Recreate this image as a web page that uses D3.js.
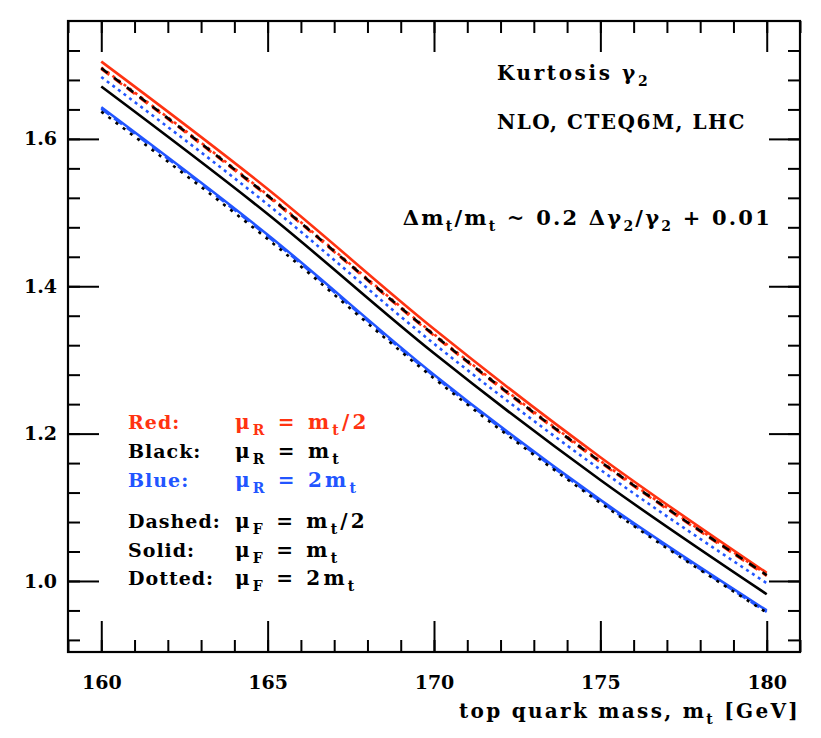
<!DOCTYPE html>
<html>
<head>
<meta charset="utf-8">
<script src="https://cdn.jsdelivr.net/npm/d3@7"></script>
<style>
  body { margin: 0; background: #fff; }
  text { font-family: "DejaVu Serif", serif; font-weight: bold; }
</style>
</head>
<body>
<svg id="chart" width="821" height="738"></svg>
<script>
// ---- data ----
const mass = [160, 165, 170, 175, 180];
const redSolid    = [1.705, 1.532, 1.342, 1.168, 1.011];
const redDashed   = [1.695, 1.522, 1.333, 1.161, 1.007];
const redDotted   = [1.697, 1.524, 1.335, 1.163, 1.009];
const blackSolid  = [1.671, 1.498, 1.309, 1.137, 0.982];
const blackDashed = [1.696, 1.523, 1.334, 1.162, 1.008];
const blackDotted = [1.637, 1.464, 1.275, 1.106, 0.957];
const blueSolid   = [1.643, 1.470, 1.280, 1.110, 0.960];
const blueDashed  = [1.641, 1.468, 1.278, 1.108, 0.958];
const blueDotted  = [1.684, 1.511, 1.322, 1.151, 0.997];

const xMajorTicks = [160, 165, 170, 175, 180];
const xMinorTicks = d3.range(159, 182, 1);
const yMajorTicks = [1.0, 1.2, 1.4, 1.6];
const yMinorTicks = [0.92, 0.96, 1.0, 1.04, 1.08, 1.12, 1.16, 1.2, 1.24, 1.28, 1.32, 1.36, 1.4, 1.44, 1.48, 1.52, 1.56, 1.6, 1.64, 1.68, 1.72];
const yTickLabels = ["1.0", "1.2", "1.4", "1.6"];

const RED = "#ff3311", BLUE = "#2255ff", BLACK = "#000000";

const series = [
  { name: "blueSolid",   values: blueSolid,   color: BLUE,  dash: null },
  { name: "blueDashed",  values: blueDashed,  color: BLUE,  dash: "10,6" },
  { name: "blueDotted",  values: blueDotted,  color: BLUE,  dash: "3,4" },
  { name: "blackSolid",  values: blackSolid,  color: BLACK, dash: null },
  { name: "blackDotted", values: blackDotted, color: BLACK, dash: "3,6" },
  { name: "redSolid",    values: redSolid,    color: RED,   dash: null },
  { name: "redDotted",   values: redDotted,   color: RED,   dash: "3,4" },
  { name: "redDashed",   values: redDashed,   color: RED,   dash: "10,6" },
  { name: "blackDashed", values: blackDashed, color: BLACK, dash: "8,8" }
];

// ---- layout ----
const L = 68, R = 800, T = 21, B = 652;
const svg = d3.select("#chart");
const x = d3.scaleLinear().domain([159, 181]).range([L, R]);
const y = d3.scaleLinear().domain([0.9036, 1.760]).range([B, T]);

svg.append("defs").append("clipPath").attr("id", "clip")
  .append("rect").attr("x", L).attr("y", T).attr("width", R - L).attr("height", B - T);

const line = d3.line()
  .x((d, i) => x(mass[i]))
  .y(d => y(d))
  .curve(d3.curveMonotoneX);

svg.append("g").attr("clip-path", "url(#clip)")
  .selectAll("path").data(series).enter().append("path")
  .attr("d", d => line(d.values))
  .attr("fill", "none")
  .attr("stroke", d => d.color)
  .attr("stroke-width", 2.6)
  .attr("stroke-dasharray", d => d.dash);

function styleAxis(g) {
  g.select(".domain").remove();
  g.selectAll(".tick line").attr("stroke", "#000").attr("stroke-width", 2);
}
function styleLabels(g) {
  g.selectAll("text").attr("font-size", 19).attr("font-family", "DejaVu Serif")
    .attr("font-weight", "bold").attr("fill", "#000");
}
// bottom
svg.append("g").attr("transform", `translate(0,${B})`)
  .call(d3.axisBottom(x).tickValues(xMinorTicks).tickSize(-12).tickFormat(""))
  .call(styleAxis);
svg.append("g").attr("transform", `translate(0,${B})`)
  .call(d3.axisBottom(x).tickValues(xMajorTicks).tickSize(-31).tickPadding(24).tickFormat(d3.format("d")))
  .call(styleAxis).call(styleLabels);
// top
svg.append("g").attr("transform", `translate(0,${T})`)
  .call(d3.axisTop(x).tickValues(xMinorTicks).tickSize(-12).tickFormat(""))
  .call(styleAxis);
svg.append("g").attr("transform", `translate(0,${T})`)
  .call(d3.axisTop(x).tickValues(xMajorTicks).tickSize(-31).tickFormat(""))
  .call(styleAxis);
// left
svg.append("g").attr("transform", `translate(${L},0)`)
  .call(d3.axisLeft(y).tickValues(yMinorTicks).tickSize(-12).tickFormat(""))
  .call(styleAxis);
svg.append("g").attr("transform", `translate(${L},0)`)
  .call(d3.axisLeft(y).tickValues(yMajorTicks).tickSize(-31).tickPadding(11)
    .tickFormat((d, i) => yTickLabels[i]))
  .call(styleAxis).call(styleLabels);
// right
svg.append("g").attr("transform", `translate(${R},0)`)
  .call(d3.axisRight(y).tickValues(yMinorTicks).tickSize(-12).tickFormat(""))
  .call(styleAxis);
svg.append("g").attr("transform", `translate(${R},0)`)
  .call(d3.axisRight(y).tickValues(yMajorTicks).tickSize(-31).tickFormat(""))
  .call(styleAxis);

// frame
svg.append("rect").attr("x", L).attr("y", T).attr("width", R - L).attr("height", B - T)
  .attr("fill", "none").attr("stroke", "#000").attr("stroke-width", 2.2);

// rich text helper: strings are normal text, {s: "..."} is a subscript
function rich(xp, yp, parts, size, color, anchor, spacing) {
  const t = svg.append("text").attr("x", xp).attr("y", yp)
    .attr("font-size", size).attr("fill", color || "#000")
    .attr("text-anchor", anchor || "start")
    .attr("letter-spacing", spacing || 0);
  const off = Math.round(size * 0.3);
  let lowered = false;
  parts.forEach(p => {
    const ts = t.append("tspan").attr("fill", color || "#000");
    if (typeof p === "string") {
      ts.attr("font-size", size).text(p);
      if (lowered) { ts.attr("dy", -off); lowered = false; }
    } else {
      ts.attr("font-size", Math.round(size * 0.68)).text(p.s);
      if (!lowered) { ts.attr("dy", off); lowered = true; }
    }
  });
  return t;
}

// annotations
rich(497, 80, ["Kurtosis γ", { s: "2" }], 20, BLACK, "start", 2.6);
rich(497, 129, ["NLO, CTEQ6M, LHC"], 20, BLACK, "start", 1.5);
rich(772, 225, ["Δm", { s: "t" }, "/m", { s: "t" }, " ~ 0.2 Δγ", { s: "2" }, "/γ", { s: "2" }, " + 0.01"], 21, BLACK, "end", 2.2);

// legend
const legendLabels = ["Red:", "Black:", "Blue:", "Dashed:", "Solid:", "Dotted:"];
const legendColors = [RED, BLACK, BLUE, BLACK, BLACK, BLACK];
const legendY = [429, 458, 487, 528, 557, 585];
legendLabels.forEach((lab, i) => {
  rich(128, legendY[i], [lab], 19, legendColors[i], "start", 1);
});
rich(235, 429, ["μ", { s: "R" }, " = m", { s: "t" }, "/2"], 20, RED, "start", 3.2);
rich(235, 458, ["μ", { s: "R" }, " = m", { s: "t" }], 20, BLACK, "start", 3.2);
rich(235, 487, ["μ", { s: "R" }, " = 2m", { s: "t" }], 20, BLUE, "start", 3.2);
rich(235, 528, ["μ", { s: "F" }, " = m", { s: "t" }, "/2"], 20, BLACK, "start", 3.2);
rich(235, 557, ["μ", { s: "F" }, " = m", { s: "t" }], 20, BLACK, "start", 3.2);
rich(235, 585, ["μ", { s: "F" }, " = 2m", { s: "t" }], 20, BLACK, "start", 3.2);

// x-axis title
rich(800, 718, ["top quark mass, m", { s: "t" }, "  [GeV]"], 20, BLACK, "end", 2.3);
</script>
</body>
</html>
